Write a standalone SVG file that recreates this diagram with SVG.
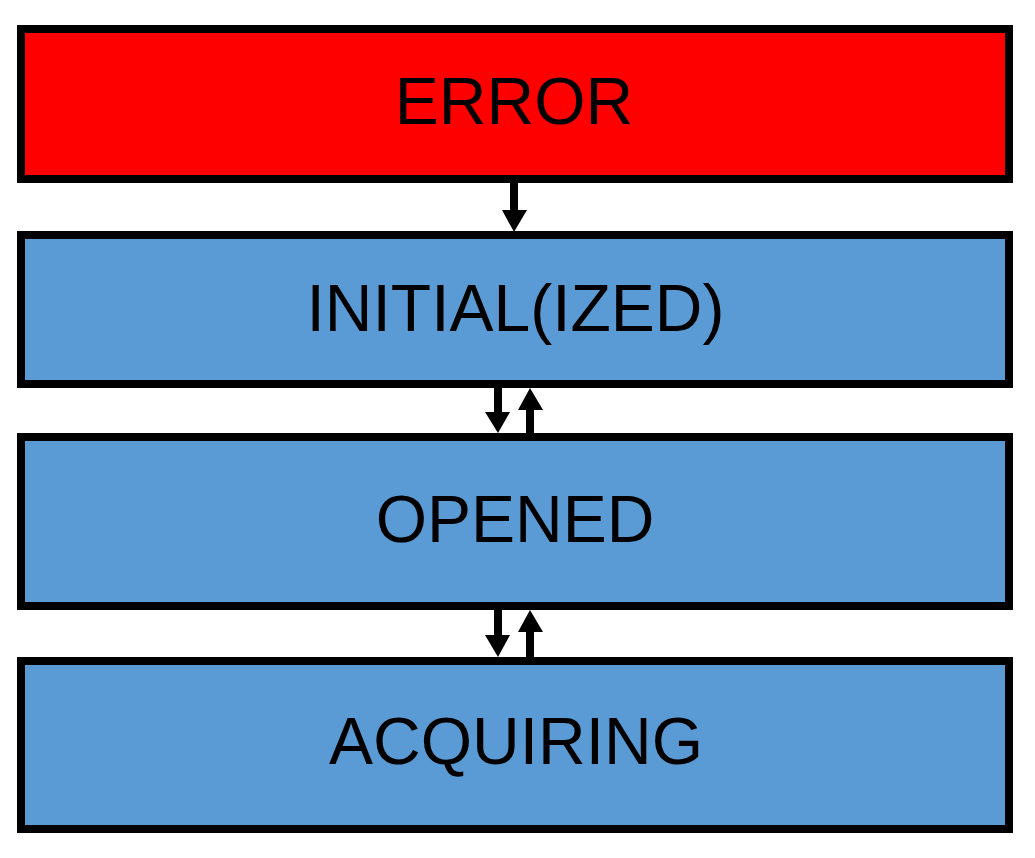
<svg xmlns="http://www.w3.org/2000/svg" width="1035" height="858" viewBox="0 0 1035 858">
<defs>
<style>
.box{stroke:#000;stroke-width:8}
.err{fill:#FF0000}
.st{fill:#5B9BD5}
.lbl{font-family:"Liberation Sans",Arial,sans-serif;font-size:66px;fill:#000;text-anchor:middle}
.shaft{stroke:#000;stroke-width:8;fill:none}
.head{fill:#000}
</style>
</defs>
<rect width="1035" height="858" fill="#fff"/>
<g id="connectors">
<line class="shaft" x1="514" y1="183" x2="514" y2="212"/>
<polygon class="head" points="502,210 527,210 514,232"/>
<line class="shaft" x1="498" y1="388" x2="498" y2="414"/>
<polygon class="head" points="485,412 510,412 498,433"/>
<line class="shaft" x1="530" y1="433" x2="530" y2="408"/>
<polygon class="head" points="518,410 543,410 530,388"/>
<line class="shaft" x1="498" y1="610" x2="498" y2="637"/>
<polygon class="head" points="485,635 510,635 498,657"/>
<line class="shaft" x1="530" y1="657" x2="530" y2="630"/>
<polygon class="head" points="518,632 543,632 530,610"/>
</g>
<g id="error">
<rect class="box err" x="21" y="29" width="988" height="150"/>
<text class="lbl" x="514" y="124">ERROR</text>
</g>
<g id="initialized">
<rect class="box st" x="21" y="235" width="988" height="149"/>
<text class="lbl" x="515.5" y="331">INITIAL(IZED)</text>
</g>
<g id="opened">
<rect class="box st" x="21" y="437" width="988" height="169"/>
<text class="lbl" x="515" y="542">OPENED</text>
</g>
<g id="acquiring">
<rect class="box st" x="21" y="661" width="988" height="168"/>
<text class="lbl" x="516" y="764">ACQUIRING</text>
</g>
</svg>
